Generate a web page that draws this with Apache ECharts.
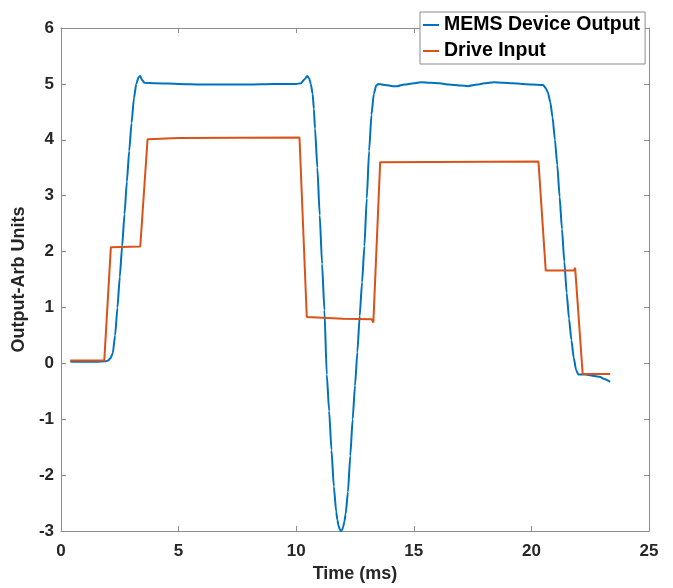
<!DOCTYPE html>
<html>
<head>
<meta charset="utf-8">
<script src="https://cdn.jsdelivr.net/npm/echarts@6/dist/echarts.min.js"></script>
<style>
html,body{margin:0;padding:0;background:#fff;}
#chart{width:673px;height:588px;}
</style>
</head>
<body>
<div id="chart"></div>
<script>
// ---- data (time in ms, output in arbitrary units) ----
const seriesNames = ['MEMS Device Output', 'Drive Input'];
const memsOutput = [
  [0.4,0.03],[1.0,0.03],[1.5,0.03],[1.9,0.04],[2.0,0.05],[2.1,0.09],[2.2,0.18],[2.3,0.5],
  [2.4,1.0],[2.5,1.55],[2.6,2.1],[2.7,2.67],[2.8,3.25],[2.9,3.8],[3.0,4.3],[3.1,4.74],
  [3.2,5.0],[3.3,5.12],[3.37,5.14],[3.45,5.07],[3.55,5.02],[4.0,5.01],[5.0,5.0],[6.0,4.99],
  [7.0,4.99],[8.0,4.99],[9.0,5.0],[10.0,5.0],[10.2,5.01],[10.35,5.08],[10.47,5.14],[10.55,5.1],
  [10.62,5.0],[10.7,4.82],[10.75,4.55],[10.8,4.2],[10.9,3.5],[11.0,2.65],[11.1,1.78],[11.2,0.95],
  [11.3,-0.2],[11.4,-0.85],[11.5,-1.55],[11.6,-2.2],[11.7,-2.65],[11.75,-2.8],[11.8,-2.9],[11.85,-2.97],
  [11.9,-3.0],[11.95,-2.98],[12.0,-2.92],[12.05,-2.83],
  [12.1,-2.7],[12.2,-2.3],[12.3,-1.65],[12.4,-1.0],[12.5,-0.4],[12.6,0.2],[12.7,0.85],[12.8,1.45],
  [12.9,2.1],[13.0,2.95],[13.1,3.8],[13.2,4.45],[13.3,4.82],[13.4,4.97],[13.5,5.0],[13.8,4.98],
  [14.1,4.96],[14.3,4.96],[14.6,4.99],[15.0,5.01],[15.3,5.03],[15.7,5.02],[16.1,5.01],[16.5,4.99],
  [17.0,4.97],[17.3,4.96],[17.7,4.99],[18.0,5.01],[18.4,5.03],[18.8,5.02],[19.2,5.01],[19.6,5.0],
  [20.0,4.99],[20.5,4.98],[20.6,4.93],[20.7,4.85],[20.8,4.68],[20.9,4.4],[21.0,4.0],[21.1,3.55],
  [21.2,2.98],[21.3,2.4],[21.4,1.82],[21.5,1.26],[21.6,0.8],[21.7,0.42],[21.8,0.1],[21.9,-0.12],
  [22.0,-0.2],[22.1,-0.2],[22.3,-0.2],[22.6,-0.22],[22.9,-0.24],[23.1,-0.28],[23.35,-0.33]
];
const driveInput = [
  [0.39,0.05],[1.84,0.05],[2.12,2.08],[3.37,2.09],[3.68,4.01],[5.0,4.03],[10.14,4.04],
  [10.45,0.83],[12.0,0.8],[13.21,0.79],[13.28,0.73],[13.57,3.6],[20.3,3.61],[20.61,1.66],
  [21.8,1.66],[21.86,1.71],[22.18,-0.19],[23.35,-0.19]
];
const xRange = {min: 0, max: 25, interval: 5};
const yRange = {min: -3, max: 6, interval: 1};

// ---- chart ----
const FONT = "'Liberation Sans', Arial, Helvetica, sans-serif";
const AX = '#8c8c8c';
const TXT = '#262626';
const chart = echarts.init(document.getElementById('chart'), null, {renderer: 'canvas'});

function axisCommon(extra) {
  return Object.assign({
    type: 'value',
    axisLine: {show: true, onZero: false, lineStyle: {color: AX, width: 1}},
    axisTick: {show: true, inside: true, length: 5, lineStyle: {color: AX}},
    splitLine: {show: false}
  }, extra);
}

chart.setOption({
  animation: false,
  backgroundColor: '#fff',
  textStyle: {fontFamily: FONT},
  grid: {left: 61, right: 24, top: 28, bottom: 56, containLabel: false},
  legend: {
    data: seriesNames,
    orient: 'vertical',
    left: 420, top: 12,
    padding: [3, 5, 3, 3],
    itemGap: 6,
    itemWidth: 16, itemHeight: 2,
    icon: 'rect',
    backgroundColor: '#fff',
    borderColor: '#8a8a8a', borderWidth: 1,
    textStyle: {fontFamily: FONT, fontWeight: 'bold', fontSize: 19.5, color: '#000'}
  },
  xAxis: [
    axisCommon(Object.assign({}, xRange, {
      position: 'bottom',
      name: 'Time (ms)', nameLocation: 'middle', nameGap: 33,
      nameTextStyle: {fontFamily: FONT, fontWeight: 'bold', fontSize: 18, color: TXT},
      axisLabel: {fontFamily: FONT, fontWeight: 'bold', fontSize: 17, color: TXT, margin: 12}
    })),
    axisCommon(Object.assign({}, xRange, {position: 'top', axisLabel: {show: false}}))
  ],
  yAxis: [
    axisCommon(Object.assign({}, yRange, {
      position: 'left',
      name: 'Output-Arb Units', nameLocation: 'middle', nameGap: 28,
      nameTextStyle: {fontFamily: FONT, fontWeight: 'bold', fontSize: 18, color: TXT},
      axisLabel: {fontFamily: FONT, fontWeight: 'bold', fontSize: 17, color: TXT, margin: 7}
    })),
    axisCommon(Object.assign({}, yRange, {position: 'right', axisLabel: {show: false}}))
  ],
  series: [
    {
      name: seriesNames[0], type: 'line', data: memsOutput,
      xAxisIndex: 0, yAxisIndex: 0,
      showSymbol: false, smooth: 0.2, smoothMonotone: 'x',
      lineStyle: {color: '#0072BD', width: 2}, itemStyle: {color: '#0072BD'}
    },
    {
      name: seriesNames[1], type: 'line', data: driveInput,
      xAxisIndex: 0, yAxisIndex: 0,
      showSymbol: false,
      lineStyle: {color: '#D95319', width: 2}, itemStyle: {color: '#D95319'}
    }
  ]
});
</script>
</body>
</html>
